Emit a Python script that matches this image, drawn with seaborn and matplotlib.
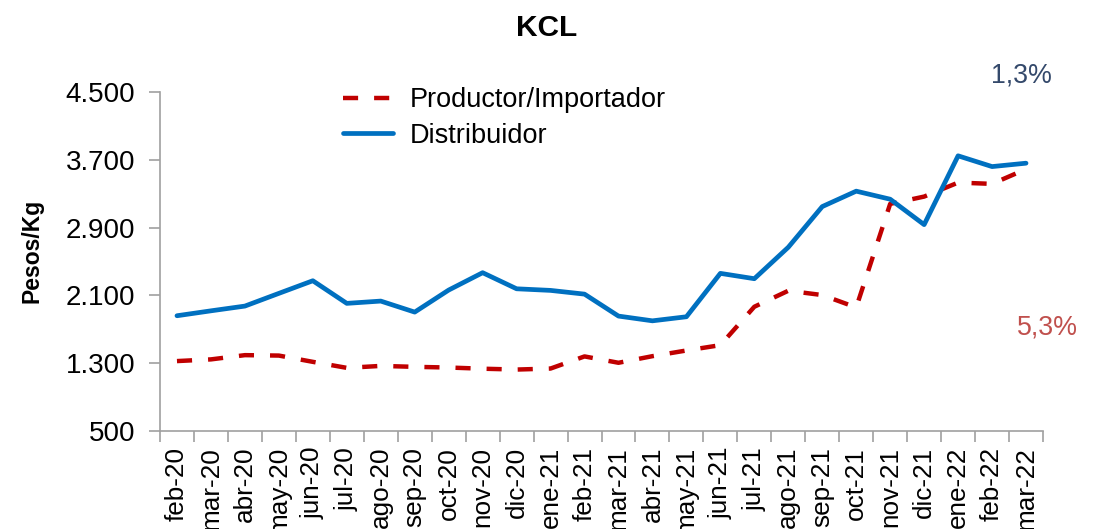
import numpy as np
import matplotlib.pyplot as plt
import seaborn as sns

# Data (Pesos/Kg)
meses = ['feb-20', 'mar-20', 'abr-20', 'may-20', 'jun-20', 'jul-20', 'ago-20',
         'sep-20', 'oct-20', 'nov-20', 'dic-20', 'ene-21', 'feb-21', 'mar-21',
         'abr-21', 'may-21', 'jun-21', 'jul-21', 'ago-21', 'sep-21', 'oct-21',
         'nov-21', 'dic-21', 'ene-22', 'feb-22', 'mar-22']
productor = [1325, 1345, 1395, 1390, 1316, 1245, 1268, 1257, 1249, 1235, 1225,
             1237, 1380, 1305, 1383, 1450, 1513, 1966, 2155, 2104, 1958, 3180,
             3266, 3431, 3416, 3590]
distribuidor = [1860, 1918, 1974, 2124, 2273, 2006, 2033, 1903, 2163, 2368,
                2178, 2159, 2115, 1856, 1800, 1848, 2360, 2297, 2668, 3148,
                3330, 3235, 2935, 3747, 3620, 3660]
yticks = [500, 1300, 2100, 2900, 3700, 4500]
var_dist = '1,3%'
var_prod = '5,3%'

sns.set_style('white', {'text.color': 'black', 'axes.labelcolor': 'black',
                        'xtick.color': 'black', 'ytick.color': 'black'})
plt.rcParams['font.family'] = ['Liberation Sans', 'DejaVu Sans']

fig = plt.figure(figsize=(10.93, 5.29), dpi=100)
ax = fig.add_axes([160 / 1093, 1 - 431 / 529, 883 / 1093, 339 / 529])

x = np.arange(len(meses))
sns.lineplot(x=x, y=productor, ax=ax, color='#C00000', linewidth=3.2,
             linestyle=(0, (3.4, 3.6)), label='Productor/Importador')
sns.lineplot(x=x, y=distribuidor, ax=ax, color='#0070C0', linewidth=3.4,
             label='Distribuidor')

ax.set_xlim(-0.5, len(meses) - 0.5)
ax.set_ylim(500, 4500)
ax.set_yticks(yticks)
ax.set_yticklabels([f'{v:,}'.replace(',', '.') for v in yticks], fontsize=20)

# category boundaries as major ticks, labels on minor ticks
ax.set_xticks(np.arange(-0.5, len(meses), 1.0))
ax.set_xticklabels([])
ax.set_xticks(x, minor=True)
ax.set_xticklabels(meses, minor=True, rotation=90, fontsize=18.8, va='top')
ax.tick_params(axis='x', which='major', length=8, color='#A0A0A0', width=1.2,
               direction='out', bottom=True)
ax.tick_params(axis='x', which='minor', length=0, pad=11.5, labelcolor='black')
ax.tick_params(axis='y', length=8, color='#A0A0A0', width=1.2, direction='out',
               left=True, pad=10, labelcolor='black')

for s in ['top', 'right']:
    ax.spines[s].set_visible(False)
for s in ['left', 'bottom']:
    ax.spines[s].set_color('#A0A0A0')
    ax.spines[s].set_linewidth(1.2)

ax.set_ylabel('Pesos/Kg', fontsize=16.5, fontweight='bold', color='black')
ax.yaxis.set_label_coords(-0.1325, 0.53)

leg = ax.legend(loc='upper left', bbox_to_anchor=(343 / 1093, 1 - 87 / 529),
                bbox_transform=fig.transFigure, frameon=False, fontsize=19.5,
                handlelength=1.85, handletextpad=0.63, labelspacing=0.36,
                borderpad=0, borderaxespad=0)
for t in leg.get_texts():
    t.set_color('black')

fig.text(547 / 1093, 1 - 28 / 529, 'KCL', ha='center', va='center',
         fontsize=21.5, fontweight='bold', color='black')
fig.text(1021 / 1093, 1 - 76 / 529, var_dist, ha='center', va='center',
         fontsize=19.3, color='#34496B')
fig.text(1047 / 1093, 1 - 327 / 529, var_prod, ha='center', va='center',
         fontsize=19.3, color='#C0504D')

fig.savefig('out.png', dpi=100)
